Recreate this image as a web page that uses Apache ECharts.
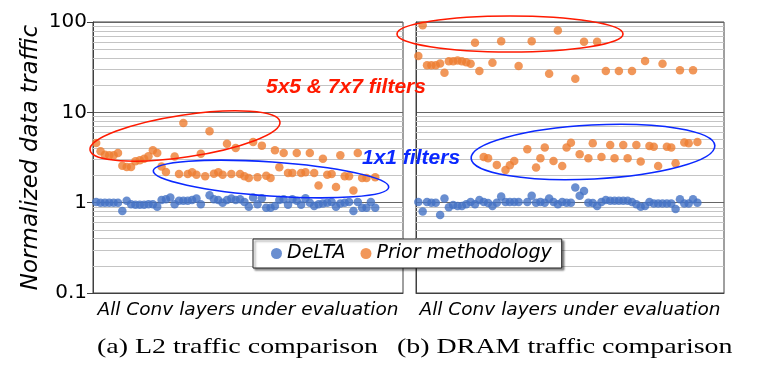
<!DOCTYPE html>
<html><head><meta charset="utf-8">
<script src="https://cdn.jsdelivr.net/npm/echarts@6/dist/echarts.min.js"></script>
<style>html,body{margin:0;padding:0;background:#fff}#c{width:763px;height:368px}</style>
</head><body><div id="c"></div>
<script>
// ---- data (layer index = position in array) ----
const yTickLabels = ['0.1', '1', '10', '100'];
const l2Delta = [1.02,1.0,1.0,1.0,1.0,1.0,0.81,1.05,0.96,0.95, 0.95,0.95,0.96,0.96,0.90,1.07,1.09,1.14,0.96,1.05,
  1.05,1.05,1.07,1.11,0.96,null,1.21,1.09,1.07,1.0, 1.07,1.11,1.07,1.09,1.02,0.90,1.14,0.96,1.12,0.88,
  0.88,0.92,1.07,1.09,0.95,1.09,1.05,0.95,1.12,1.0, 0.92,0.96,0.98,1.0,1.02,0.90,0.98,1.0,1.02,0.81,
  1.02,0.88,0.88,1.02,0.88];
const l2Prior = [4.58,3.70,3.40,3.34,3.34,3.55,2.57,2.48,2.48,2.87, 2.94,3.07,3.26,3.80,3.55,2.52,2.19,null,3.24,2.08,
  7.63,2.08,2.17,2.04,3.49,1.96,6.16,2.09,2.17,2.04, 4.50,2.08,4.04,2.08,1.96,1.88,4.70,1.91,4.28,1.99,
  1.88,3.80,2.46,3.55,2.13,2.13,3.55,2.13,2.17,3.55, 2.13,1.55,3.07,2.04,2.08,1.49,3.34,1.96,1.96,1.36,
  3.55,1.88,1.88,null,1.91];
const dramDelta = [1.02,0.80,1.02,1.0,1.0,0.73,1.11,0.89,0.94,0.92, 0.92,0.96,1.02,0.96,1.07,1.02,0.99,0.92,1.0,1.17,
  1.02,1.02,1.02,1.02,null,1.02,1.19,1.0,1.02,1.0, 1.11,1.02,0.96,1.02,1.0,1.0,1.47,1.19,1.35,1.0,
  0.99,0.92,1.02,1.07,1.05,1.05,1.05,1.05,1.05,1.02, 0.96,0.90,0.92,1.02,0.98,0.98,0.98,0.98,0.98,0.85,
  1.09,0.98,0.98,1.09,1.0];
const dramPrior = [42,92,33.3,33.3,33.3,34.8,27.5,36.8,36.8,37.5, 36.8,35.9,34.5,58.9,28.6,3.21,3.10,35.4,2.62,61.4,
  2.30,2.60,2.90,32.5,null,3.90,61.4,2.45,3.10,4.07, 26.8,2.90,80.5,2.55,4.07,4.6,23.6,3.43,60.4,3.10,
  4.54,60.4,3.21,28.6,4.35,3.10,28.6,4.35,3.10,28.6, 4.35,2.85,36.9,4.24,4.17,2.55,34.5,4.17,4.07,2.73,
  29.3,4.63,4.54,29.3,4.70];
const seriesNames = ['DeLTA', 'Prior methodology'];
const xAxisTitle = 'All Conv layers under evaluation';
const yAxisTitle = 'Normalized data traffic';
const captions = ['(a) L2 traffic comparison', '(b) DRAM traffic comparison'];
const annotations = ['5x5 & 7x7 filters', '1x1 filters'];

const BLUE = '#4472C4', ORANGE = '#ED7D31';
const pts = arr => arr.map((v, i) => v == null ? null : [i, v]).filter(p => p);
// minor gridlines at 2..9 of each decade
const minorVals = [];
[0.1, 1, 10].forEach(d => { for (let m = 2; m <= 9; m++) minorVals.push(+(d * m).toPrecision(3)); });
const xRanges = [[-0.73, 70.37], [-0.53, 70.1]];

const chart = echarts.init(document.getElementById('c'), null, {renderer: 'canvas'});
const SANS = 'DejaVu Sans';
const yAxisBase = {
  type: 'log', logBase: 10, min: 0.1, max: 100,
  axisLine: {show: true, onZero: false, lineStyle: {color: '#404040', width: 1}},
  splitLine: {show: true, lineStyle: {color: '#666666', width: 1}},
  minorTick: {show: false}
};
const xAxisBase = {
  type: 'value',
  axisLine: {show: true, onZero: false, lineStyle: {color: '#404040'}},
  axisTick: {show: false}, axisLabel: {show: false}, splitLine: {show: false},
  name: xAxisTitle, nameLocation: 'middle', nameGap: 8,
  nameTextStyle: {fontFamily: SANS, fontStyle: 'italic', fontSize: 18.5, color: '#000', verticalAlign: 'top'}
};
const scatterBase = {type: 'scatter', symbol: 'circle', symbolSize: 8.5, z: 5};
const minorSeries = (xi) => ({
  type: 'line', xAxisIndex: xi, yAxisIndex: xi, data: [], z: 1, silent: true, symbol: 'none',
  markLine: {silent: true, symbol: ['none', 'none'], label: {show: false}, animation: false,
    lineStyle: {color: '#c4c4c4', type: 'solid', width: 1}, emphasis: {disabled: true},
    data: minorVals.map(v => [{coord: [xRanges[xi][0], v]}, {coord: [xRanges[xi][1], v]}])}
});

const option = {
  animation: false,
  backgroundColor: '#fff',
  grid: [
    {left: 93, top: 22, width: 310, height: 271, show: true, borderColor: '#404040', borderWidth: 1, backgroundColor: 'transparent'},
    {left: 416, top: 22, width: 308, height: 271, show: true, borderColor: '#404040', borderWidth: 1, backgroundColor: 'transparent'}
  ],
  xAxis: [
    Object.assign({}, xAxisBase, {gridIndex: 0, min: xRanges[0][0], max: xRanges[0][1]}),
    Object.assign({}, xAxisBase, {gridIndex: 1, min: xRanges[1][0], max: xRanges[1][1]})
  ],
  yAxis: [
    Object.assign({}, yAxisBase, {gridIndex: 0,
      axisTick: {show: true, length: 6, lineStyle: {color: '#404040'}},
      axisLabel: {show: true, margin: 6, fontFamily: SANS, fontSize: 20, color: '#000',
        formatter: v => { const i = Math.round(Math.log10(v)) + 1; return yTickLabels[i] ?? ''; }},
      name: yAxisTitle, nameLocation: 'middle', nameRotate: 90, nameGap: 50,
      nameTextStyle: {fontFamily: SANS, fontStyle: 'italic', fontSize: 23, color: '#000'}}),
    Object.assign({}, yAxisBase, {gridIndex: 1, axisTick: {show: false}, axisLabel: {show: false}})
  ],
  legend: {
    left: 253, top: 239, orient: 'horizontal',
    data: seriesNames, icon: 'circle', itemWidth: 11, itemHeight: 11, itemGap: 15,
    padding: [5, 10, 5, 18],
    backgroundColor: '#fff', borderColor: '#222', borderWidth: 1,
    shadowColor: 'rgba(0,0,0,0.45)', shadowOffsetX: 2, shadowOffsetY: 2, shadowBlur: 2,
    textStyle: {fontFamily: SANS, fontStyle: 'italic', fontSize: 19, color: '#000'},
    z: 10
  },
  series: [
    minorSeries(0), minorSeries(1),
    Object.assign({}, scatterBase, {name: seriesNames[0], xAxisIndex: 0, yAxisIndex: 0, data: pts(l2Delta), itemStyle: {color: BLUE}}),
    Object.assign({}, scatterBase, {name: seriesNames[1], xAxisIndex: 0, yAxisIndex: 0, data: pts(l2Prior), itemStyle: {color: ORANGE}}),
    Object.assign({}, scatterBase, {name: seriesNames[0], xAxisIndex: 1, yAxisIndex: 1, data: pts(dramDelta), itemStyle: {color: BLUE}}),
    Object.assign({}, scatterBase, {name: seriesNames[1], xAxisIndex: 1, yAxisIndex: 1, data: pts(dramPrior), itemStyle: {color: ORANGE}})
  ],
  graphic: [
    {type: 'ellipse', x: 185, y: 136, rotation: 8.5 * Math.PI / 180, shape: {cx: 0, cy: 0, rx: 96, ry: 21},
      style: {fill: null, stroke: '#ff1a00', lineWidth: 1.6}, z: 20, silent: true},
    {type: 'ellipse', x: 271, y: 179, rotation: -4 * Math.PI / 180, shape: {cx: 0, cy: 0, rx: 118, ry: 17},
      style: {fill: null, stroke: '#0a28ff', lineWidth: 1.6}, z: 20, silent: true},
    {type: 'ellipse', x: 510, y: 34, rotation: 0, shape: {cx: 0, cy: 0, rx: 113, ry: 18},
      style: {fill: null, stroke: '#ff1a00', lineWidth: 1.6}, z: 20, silent: true},
    {type: 'ellipse', x: 593, y: 152, rotation: 3 * Math.PI / 180, shape: {cx: 0, cy: 0, rx: 122, ry: 27},
      style: {fill: null, stroke: '#0a28ff', lineWidth: 1.6}, z: 20, silent: true},
    {type: 'text', x: 266, y: 87, z: 21, silent: true,
      style: {text: annotations[0], fill: '#ff1a00', font: 'italic bold 21px "Liberation Sans"', textVerticalAlign: 'middle'}},
    {type: 'text', x: 362, y: 158, z: 21, silent: true,
      style: {text: annotations[1], fill: '#0a28ff', font: 'italic bold 21px "Liberation Sans"', textVerticalAlign: 'middle'}},
    {type: 'text', x: 97, y: 347, scaleX: 1.27, z: 21, silent: true,
      style: {text: captions[0], fill: '#000', font: '22px "Liberation Serif"', textVerticalAlign: 'middle'}},
    {type: 'text', x: 397, y: 347, scaleX: 1.27, z: 21, silent: true,
      style: {text: captions[1], fill: '#000', font: '22px "Liberation Serif"', textVerticalAlign: 'middle'}}
  ]
};
chart.setOption(option);
</script></body></html>
